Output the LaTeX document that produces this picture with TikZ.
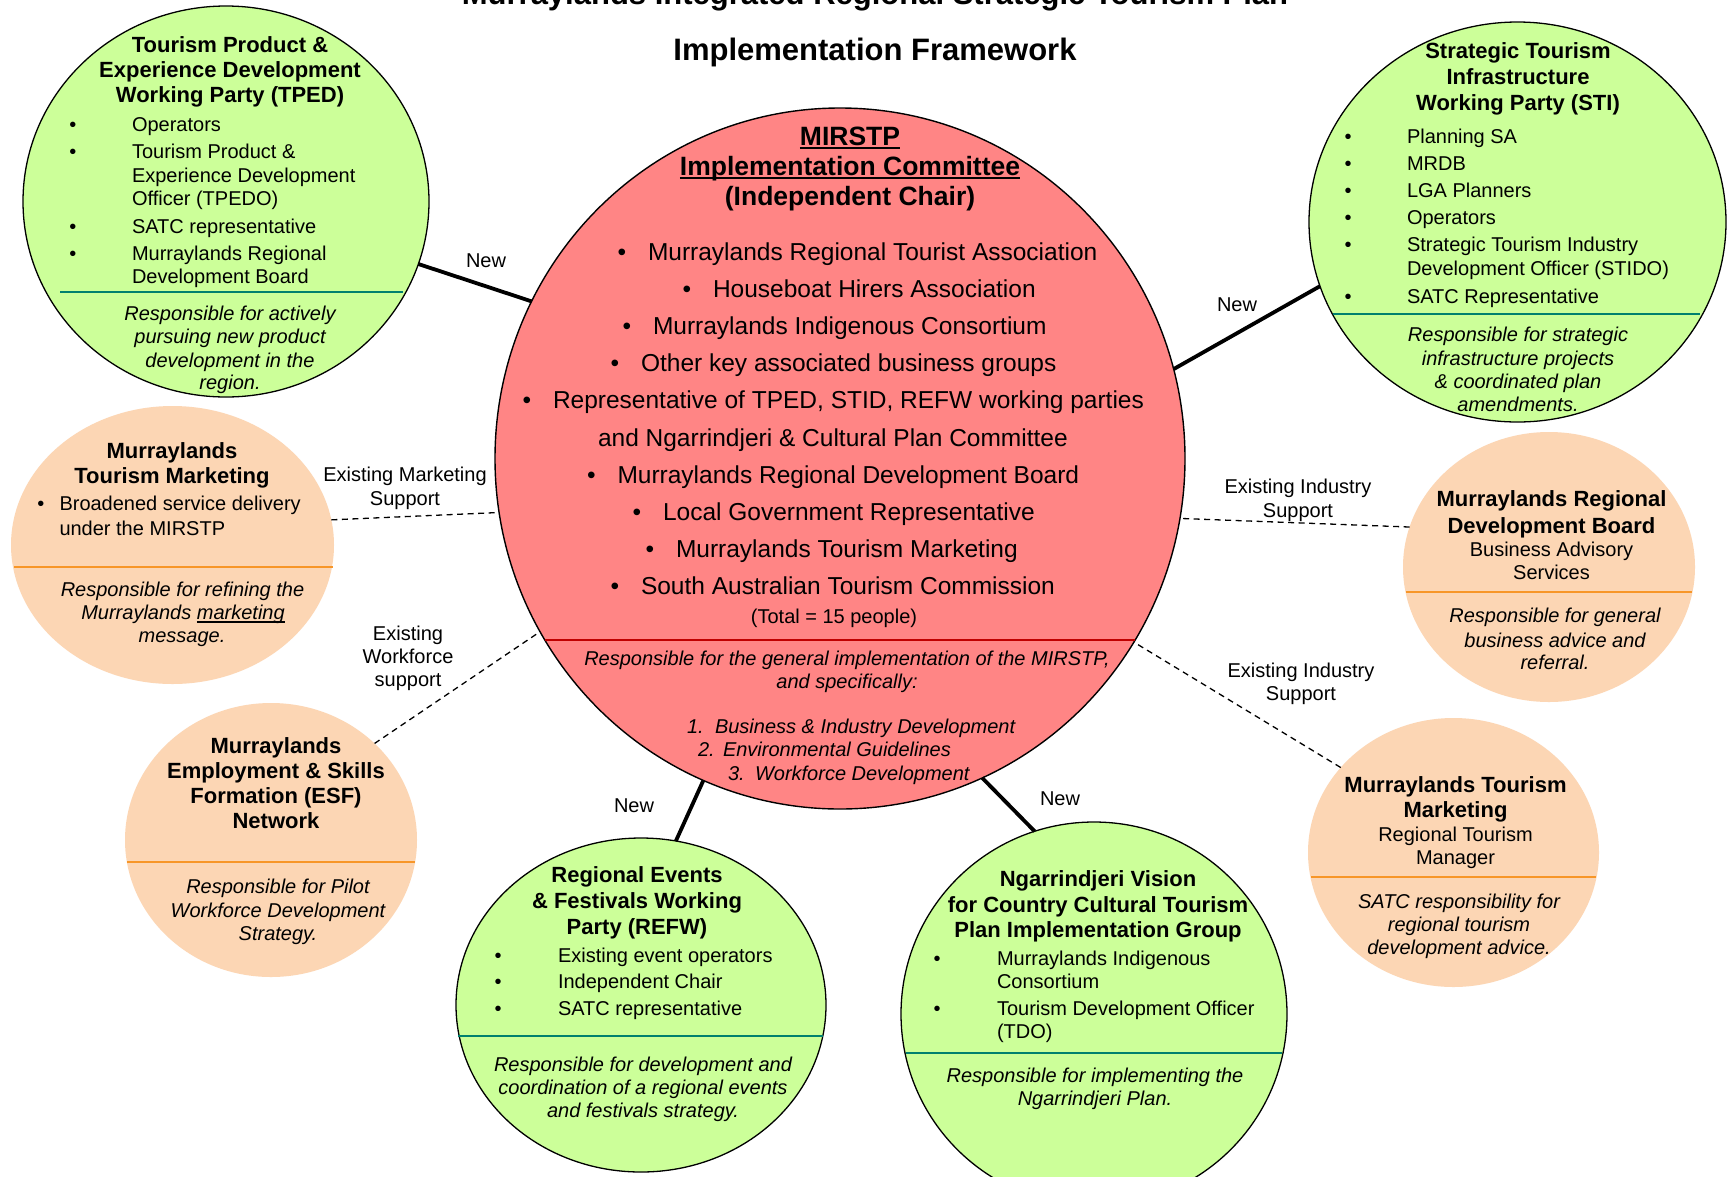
\documentclass[tikz,border=0pt]{standalone}
\usepackage{fontspec}
\setmainfont{Liberation Sans}
\usetikzlibrary{shapes.geometric}
\newcommand\myfs[1]{\fontsize{#1}{#1}\selectfont}
\newcommand\myul[3]{\setbox0=\hbox{#1}\rlap{\rule[-#2]{\wd0}{#3}}\box0}
\definecolor{grn}{RGB}{204,255,153}
\definecolor{pch}{RGB}{252,214,180}
\definecolor{sal}{RGB}{255,133,133}
\definecolor{tealx}{RGB}{0,128,110}
\definecolor{orng}{RGB}{247,150,40}
\definecolor{dred}{RGB}{192,0,0}
\begin{document}
\begin{tikzpicture}[x=1pt,y=-1pt,
  every node/.style={inner sep=0pt,outer sep=0pt},
  gc/.style={ellipse,draw=black,line width=1.3pt,fill=grn},
  pc/.style={ellipse,fill=pch},
  rc/.style={ellipse,draw=black,line width=1.4pt,fill=sal},
  hd/.style={font=\bfseries\myfs{22},anchor=base},
  itx/.style={font=\myfs{20},anchor=base west},
  ctx/.style={font=\myfs{20},anchor=base},
  rsp/.style={font=\itshape\myfs{20},anchor=base},
  bul/.style={font=\myfs{20},anchor=base},
  newline/.style={line width=3.8pt,black},
  dashln/.style={line width=1.3pt,black,dash pattern=on 6pt off 4.5pt},
  tdiv/.style={line width=2pt,tealx},
  odiv/.style={line width=2.2pt,orng}]
\useasboundingbox (0,0) rectangle (1729,1176);
\fill[white] (0,0) rectangle (1729,1176);

% ---- title
\node[font=\bfseries\myfs{31},anchor=base] (title1) at (875,4) {Murraylands Integrated Regional Strategic Tourism Plan};
\node[font=\bfseries\myfs{31},anchor=base] (title2) at (875,60.5) {Implementation Framework};

% ---- shapes
\node[rc,minimum width=690pt,minimum height=701pt] (main) at (840,458.5) {};
\node[gc,minimum width=406pt,minimum height=391pt] (tped) at (226,201.5) {};
\node[gc,minimum width=417pt,minimum height=400pt] (sti) at (1517.5,222) {};
\node[gc,minimum width=370pt,minimum height=334pt] (refw) at (641,1005) {};
\node[gc,minimum width=386pt,minimum height=384pt] (ngar) at (1094,1014) {};
\node[pc,minimum width=323pt,minimum height=278pt] (mtml) at (172.5,545) {};
\node[pc,minimum width=292pt,minimum height=274pt] (esf) at (271,840) {};
\node[pc,minimum width=292pt,minimum height=270pt] (mrdb) at (1549,567) {};
\node[pc,minimum width=291pt,minimum height=269pt] (mtmr) at (1453.5,852.5) {};

% ---- connectors
\draw[newline] (tped.-18.1) -- (main.153.1);
\draw[newline] (sti.198.2) -- (main.15.8);
\draw[newline] (refw.78.7) -- (main.247.2);
\draw[newline] (ngar.108.5) -- (main.294.1);
\draw[dashln] (mtml.9.5) -- (main.189.9);
\draw[dashln] (esf.43.6) -- (main.210.7);
\draw[dashln] (mrdb.164.1) -- (main.-10.9);
\draw[dashln] (mtmr.143.8) -- (main.-32.6);

\node[ctx] (lnew1) at (486,267) {New};
\node[ctx] (lnew2) at (1237,311) {New};
\node[ctx] (lnew3) at (634,812) {New};
\node[ctx] (lnew4) at (1060,805) {New};
\node[ctx] (lmk1) at (405,481) {Existing Marketing};
\node[ctx] (lmk2) at (405,505) {Support};
\node[ctx] (lwf1) at (408,640) {Existing};
\node[ctx] (lwf2) at (408,663) {Workforce};
\node[ctx] (lwf3) at (408,686) {support};
\node[ctx] (lin1) at (1298,493) {Existing Industry};
\node[ctx] (lin2) at (1298,517) {Support};
\node[ctx] (lim1) at (1301,677) {Existing Industry};
\node[ctx] (lim2) at (1301,700) {Support};

% ---- dividers
\draw[line width=2pt,dred] (545,640) -- (1135,640);
\draw[tdiv] (60,292) -- (403,292);
\draw[tdiv] (1333,314) -- (1700,314);
\draw[tdiv] (458,1036) -- (823,1036);
\draw[tdiv] (906,1053) -- (1282,1053);
\draw[odiv] (14,567) -- (333,567);
\draw[odiv] (127,862) -- (415,862);
\draw[odiv] (1406,592) -- (1692,592);
\draw[odiv] (1311,876.6) -- (1596,876.6);

% ---- main circle text
\node[font=\bfseries\myfs{26.5},anchor=base] (mt1) at (850,145) {\myul{MIRSTP}{4pt}{2.2pt}};
\node[font=\bfseries\myfs{26.5},anchor=base] (mt2) at (850,175) {\myul{Implementation Committee}{4pt}{2.2pt}};
\node[font=\bfseries\myfs{26.5},anchor=base] (mt3) at (850,205) {(Independent Chair)};
\foreach \x/\y/\t [count=\n] in {648/260/{Murraylands Regional Tourist Association},
  713/297/{Houseboat Hirers Association},
  653/334/{Murraylands Indigenous Consortium},
  641/371/{Other key associated business groups},
  553/408/{Representative of TPED, STID, REFW working parties},
  617.5/483/{Murraylands Regional Development Board},
  663/520/{Local Government Representative},
  676/557/{Murraylands Tourism Marketing},
  641/594/{South Australian Tourism Commission}}{
  \node[font=\myfs{24.5},anchor=base west] (mi\n) at (\x,\y) {\t};
  \node[font=\myfs{24.5},anchor=base] (mb\n) at (\x-26,\y) {\textbullet};
}
\node[font=\myfs{24.5},anchor=base west] (mi6x) at (598,446) {and Ngarrindjeri \& Cultural Plan Committee};
\node[ctx] (mtot) at (834,623) {(Total = 15 people)};
\node[rsp] (mr1) at (847,665) {Responsible for the general implementation of the MIRSTP,};
\node[rsp] (mr2) at (847,688) {and specifically:};
\node[rsp,anchor=base west] (mn1) at (687,733) {\makebox[28pt][l]{1.}Business \& Industry Development};
\node[rsp,anchor=base west] (mn2) at (698,756) {\makebox[25pt][l]{2.}Environmental Guidelines};
\node[rsp,anchor=base west] (mn3) at (728,780) {\makebox[27pt][l]{3.}Workforce Development};

% ---- TPED
\node[hd] (tp1) at (230,52) {Tourism Product \&};
\node[hd] (tp2) at (230,77) {Experience Development};
\node[hd] (tp3) at (230,102) {Working Party (TPED)};
\foreach \y/\t/\b [count=\n] in {131/Operators/1, 158/{Tourism Product \&}/1, 182/Experience Development/0,
  205/{Officer (TPEDO)}/0, 233/SATC representative/1, 260/Murraylands Regional/1, 283/Development Board/0}{
  \node[itx] (tpi\n) at (132,\y) {\t};
  \ifnum\b=1 \node[bul] (tpb\n) at (73,\y) {\textbullet}; \fi
}
\foreach \y/\t [count=\n] in {320/Responsible for actively, 343/pursuing new product, 367/development in the, 389/region.}{
  \node[rsp] (tpr\n) at (230,\y) {\t};
}

% ---- STI
\node[hd] (st1) at (1518,58) {Strategic Tourism};
\node[hd] (st2) at (1518,84) {Infrastructure};
\node[hd] (st3) at (1518,110) {Working Party (STI)};
\foreach \y/\t/\b [count=\n] in {143/Planning SA/1, 170/MRDB/1, 197/LGA Planners/1, 224/Operators/1,
  251/Strategic Tourism Industry/1, 275/{Development Officer (STIDO)}/0, 303/SATC Representative/1}{
  \node[itx] (sti\n) at (1407,\y) {\t};
  \ifnum\b=1 \node[bul] (stb\n) at (1348,\y) {\textbullet}; \fi
}
\foreach \y/\t [count=\n] in {341/Responsible for strategic, 365/infrastructure projects, 388/{\& coordinated plan}, 411/amendments.}{
  \node[rsp] (str\n) at (1518,\y) {\t};
}

% ---- REFW
\node[hd] (rf1) at (637,882) {Regional Events};
\node[hd] (rf2) at (637,908) {\& Festivals Working};
\node[hd] (rf3) at (637,934) {Party (REFW)};
\foreach \y/\t [count=\n] in {962/Existing event operators, 988/Independent Chair, 1015/SATC representative}{
  \node[itx] (rfi\n) at (558,\y) {\t};
  \node[bul] (rfb\n) at (498,\y) {\textbullet};
}
\foreach \y/\t [count=\n] in {1071/Responsible for development and, 1094/coordination of a regional events, 1117/and festivals strategy.}{
  \node[rsp] (rfr\n) at (643,\y) {\t};
}

% ---- Ngarrindjeri
\node[hd] (ng1) at (1098,886) {Ngarrindjeri Vision};
\node[hd] (ng2) at (1098,912) {for Country Cultural Tourism};
\node[hd] (ng3) at (1098,937) {Plan Implementation Group};
\foreach \y/\t/\b [count=\n] in {965/Murraylands Indigenous/1, 988/Consortium/0, 1015/Tourism Development Officer/1, 1038/(TDO)/0}{
  \node[itx] (ngi\n) at (997,\y) {\t};
  \ifnum\b=1 \node[bul] (ngb\n) at (937,\y) {\textbullet}; \fi
}
\node[rsp] (ngr1) at (1095,1082) {Responsible for implementing the};
\node[rsp] (ngr2) at (1095,1105) {Ngarrindjeri Plan.};

% ---- Murraylands Tourism Marketing (left)
\node[hd] (ml1) at (172,458) {Murraylands};
\node[hd] (ml2) at (172,483) {Tourism Marketing};
\node[bul] (mlb1) at (41,510) {\textbullet};
\node[itx] (mli1) at (59.5,510) {Broadened service delivery};
\node[itx] (mli2) at (59.5,535) {under the MIRSTP};
\node[rsp] (mlr1) at (182.5,596) {Responsible for refining the};
\node[rsp] (mlr2) at (183,619) {Murraylands \myul{marketing}{3.5pt}{1.3pt}};
\node[rsp] (mlr3) at (182,642) {message.};

% ---- ESF
\node[hd] (es1) at (276,753) {Murraylands};
\node[hd] (es2) at (276,778) {Employment \& Skills};
\node[hd] (es3) at (276,803) {Formation (ESF)};
\node[hd] (es4) at (276,828) {Network};
\node[rsp] (esr1) at (278,893) {Responsible for Pilot};
\node[rsp] (esr2) at (278,917) {Workforce Development};
\node[rsp] (esr3) at (278,940) {Strategy.};

% ---- MRDB
\node[hd] (mr1x) at (1551.5,506) {Murraylands Regional};
\node[hd] (mr2x) at (1551.5,533) {Development Board};
\node[ctx] (mr3x) at (1551.5,556) {Business Advisory};
\node[ctx] (mr4x) at (1551.5,579) {Services};
\node[rsp] (mrr1) at (1555,622) {Responsible for general};
\node[rsp] (mrr2) at (1555,647) {business advice and};
\node[rsp] (mrr3) at (1555,669) {referral.};

% ---- Murraylands Tourism Marketing (right)
\node[hd] (mm1) at (1455.5,792) {Murraylands Tourism};
\node[hd] (mm2) at (1455.5,817) {Marketing};
\node[ctx] (mm3) at (1455.5,841) {Regional Tourism};
\node[ctx] (mm4) at (1455.5,864) {Manager};
\node[rsp] (mmr1) at (1459,908) {SATC responsibility for};
\node[rsp] (mmr2) at (1459,931) {regional tourism};
\node[rsp] (mmr3) at (1459,954) {development advice.};
\end{tikzpicture}
\end{document}
